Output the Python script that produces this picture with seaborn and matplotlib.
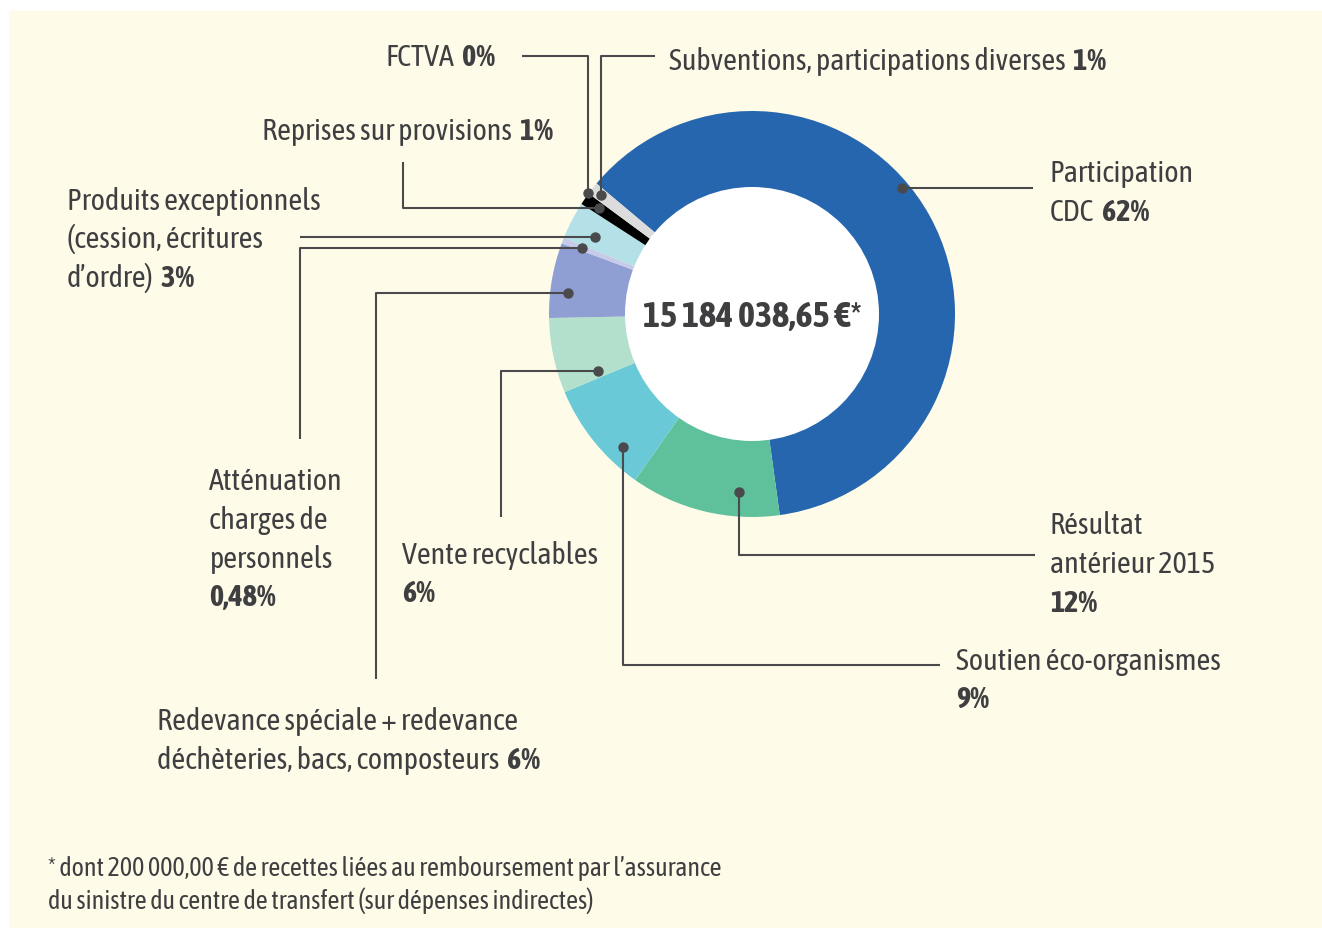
import matplotlib
matplotlib.use('Agg')
import matplotlib.pyplot as plt
from matplotlib import font_manager as fm
import seaborn as sns
import numpy as np
from matplotlib.patches import Circle, Rectangle

W, H = 1322, 929

# Budget shares, clockwise from the top of the ring
categories = ['Participation CDC', 'Résultat antérieur 2015', 'Soutien éco-organismes',
              'Vente recyclables', 'Redevance spéciale + redevance déchèteries, bacs, composteurs',
              'Atténuation charges de personnels',
              'Produits exceptionnels (cession, écritures d’ordre)',
              'Reprises sur provisions', 'FCTVA', 'Subventions, participations diverses']
shares = [62, 12, 9, 6, 6, 0.48, 3, 1, 0, 1]
share_labels = ['62%', '12%', '9%', '6%', '6%', '0,48%', '3%', '1%', '0%', '1%']
label_lines = [
    ['Participation', 'CDC'],
    ['Résultat', 'antérieur 2015', ''],
    ['Soutien éco-organismes', ''],
    ['Vente recyclables', ''],
    ['Redevance spéciale + redevance', 'déchèteries, bacs, composteurs'],
    ['Atténuation', 'charges de', 'personnels', ''],
    ['Produits exceptionnels', '(cession, écritures', 'd’ordre)'],
    ['Reprises sur provisions'],
    ['FCTVA'],
    ['Subventions, participations diverses'],
]
colors = ['#2566ae', '#5fc19b', '#69c9d6', '#b3dfcd', '#8f9fd3',
          '#c6cbea', '#b4e1e7', '#000000', '#000000', '#dcdcdc']
total_label = '15 184 038,65 €*'
footnote = ['* dont 200 000,00 € de recettes liées au remboursement par l’assurance',
            'du sinistre du centre de transfert (sur dépenses indirectes)']

# layout (pixels from top-left): text anchor, alignment, dot placement, leader route
layout = [
    dict(xy=(1050, 174), ha='left', frac=0.45, r=196, route=[('h', 1033)]),
    dict(xy=(1050, 526), ha='left', frac=0.28, r=178, route=[('v', 556), ('h', 1035)]),
    dict(xy=(956, 661), ha='left', frac=0.28, r=185, route=[('v', 666), ('h', 940)]),
    dict(xy=(402, 555), ha='left', frac=0.11, r=164, route=[('h', 501), ('v', 518)]),
    dict(xy=(157, 722), ha='left', frac=0.36, r=185, route=[('h', 376), ('v', 680)]),
    dict(xy=(209, 482), ha='left', frac=0.5, r=182, route=[('h', 300), ('v', 440)]),
    dict(xy=(67, 201), ha='left', frac=0.38, r=175, route=[('h', 300)]),
    dict(xy=(553, 131), ha='right', frac=0.5, r=186, route=[('h', 403), ('v', 163)]),
    dict(xy=(495, 57), ha='right', frac=0.5, r=204, route=[('v', 57), ('h', 522)]),
    dict(xy=(669, 61), ha='left', frac=0.5, r=192, route=[('v', 57), ('h', 655)]),
]

CX, CY, R_OUT, R_IN = 752, 315, 203, 127
TEXT = '#3f3f41'
LINE = '#4a4a4c'
LINE_GAP = 38.5

sns.set_theme(style='white')

# pick a narrow face if one is installed, preferably one with a bold weight
fonts = fm.fontManager.ttflist
weights = {}
for f in fonts:
    low = f.name.lower()
    if 'narrow' in low or 'condensed' in low:
        w = f.weight if isinstance(f.weight, int) else (700 if 'bold' in str(f.weight) else 400)
        weights.setdefault(f.name, set()).add(w)
with_bold = sorted(n for n, ws in weights.items() if max(ws) >= 600 and min(ws) <= 500)
if with_bold:
    REG = BOLD = with_bold[0]
    FS, FS_C, FS_F = 21.8, 26, 18.7
elif weights:
    REG = sorted(weights)[0]
    BOLD = 'Roboto'
    FS, FS_C, FS_F = 21.5, 21, 18
else:
    REG = BOLD = 'Roboto'
    FS, FS_C, FS_F = 18, 21, 14.5
plt.rcParams['font.family'] = [REG, 'DejaVu Sans']


def Y(y):
    return H - y


fig = plt.figure(figsize=(W / 100, H / 100), dpi=100, facecolor='white')
ax = fig.add_axes([0, 0, 1, 1])

wedges, _ = ax.pie(shares, colors=colors, startangle=140, counterclock=False,
                   center=(CX, Y(CY)), radius=R_OUT,
                   wedgeprops=dict(linewidth=0, antialiased=True))
ax.add_patch(Circle((CX, Y(CY)), R_IN, facecolor='white', edgecolor='none', zorder=3))
ax.add_patch(Rectangle((9, 0), W - 9, H - 12, facecolor='#fefbe9', edgecolor='none', zorder=-5))
ax.set_xlim(0, W)
ax.set_ylim(0, H)
ax.set_aspect('equal')
ax.axis('off')

bold_kw = dict(fontweight='bold', family=[BOLD, 'DejaVu Sans'], color=TEXT)
ax.text(CX, Y(CY + 2), total_label, ha='center', va='center', fontsize=FS_C,
        zorder=5, **bold_kw)


def put_line(x, y, normal, bold, ha):
    if normal == '':
        ax.text(x, Y(y), bold.strip(), ha=ha, va='center', fontsize=FS, **bold_kw)
        return
    if ha == 'left':
        t = ax.text(x, Y(y), normal, ha='left', va='center', fontsize=FS, color=TEXT)
        if bold:
            ax.annotate(bold, xy=(1, 0), xycoords=t, xytext=(2.5, 0),
                        textcoords='offset points', ha='left', va='bottom',
                        fontsize=FS, **bold_kw)
    else:
        b = ax.text(x, Y(y), bold, ha='right', va='center', fontsize=FS, **bold_kw)
        ax.annotate(normal, xy=(0, 0), xycoords=b, xytext=(-2.5, 0),
                    textcoords='offset points', ha='right', va='bottom',
                    fontsize=FS, color=TEXT)


for w, lines, pct, lay in zip(wedges, label_lines, share_labels, layout):
    # dot on the ring
    t1, t2 = w.theta1, w.theta2
    ang = np.deg2rad(t2 - lay['frac'] * (t2 - t1))
    px = CX + lay['r'] * np.cos(ang)
    py = Y(CY) + lay['r'] * np.sin(ang)
    xs, ys = [px], [py]
    for kind, v in lay['route']:
        if kind == 'h':
            xs.append(v); ys.append(ys[-1])
        else:
            xs.append(xs[-1]); ys.append(Y(v))
    ax.plot(xs, ys, color=LINE, lw=1.5, zorder=6, solid_capstyle='butt')
    ax.plot(px, py, 'o', ms=6.5, color=LINE, zorder=7)

    x0, y0 = lay['xy']
    for i, ln in enumerate(lines):
        last = i == len(lines) - 1
        put_line(x0, y0 + i * LINE_GAP, ln, (' ' + pct) if last else '', lay['ha'])

for i, ln in enumerate(footnote):
    ax.text(48, Y(869 + i * 32), ln, ha='left', va='center', fontsize=FS_F, color=TEXT)

fig.savefig('out.png', dpi=100, facecolor='white')
